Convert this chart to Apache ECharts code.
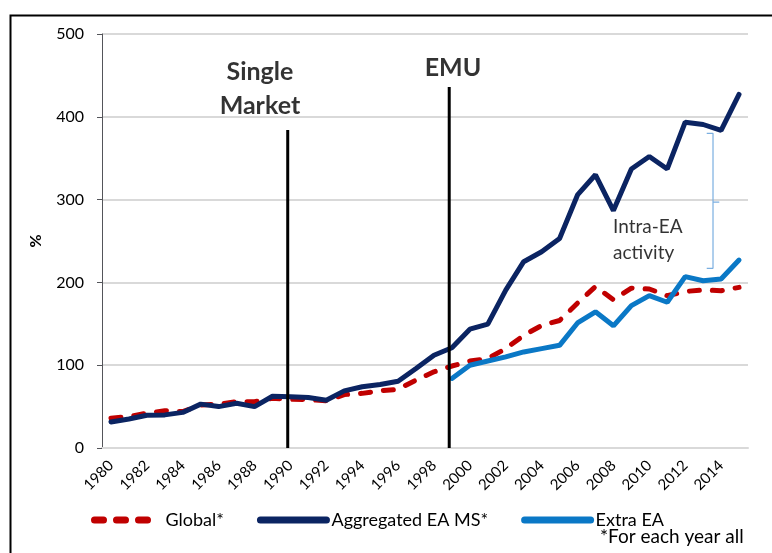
<!DOCTYPE html>
<html>
<head>
<meta charset="utf-8">
<script src="https://cdn.jsdelivr.net/npm/echarts@6/dist/echarts.min.js"></script>
<style>
  html, body { margin: 0; padding: 0; background: #fff; }
  #chart { width: 772px; height: 553px; }
</style>
</head>
<body>
<div id="chart"></div>
<script>
// years on the x axis
const years = [];
for (let y = 1980; y <= 2015; y++) years.push(String(y));

// Global* (red dashed)
const globalVals = [36, 38, 42, 45, 44, 52, 53, 56, 56, 60,
  59, 58.5, 57, 64.5, 66, 69, 71, 82, 92, 99,
  105, 108, 120, 136, 148, 154, 175, 195, 179, 193,
  192, 184, 189, 191, 190, 194];

// Aggregated EA MS* (navy)
const aggregatedVals = [31.5, 35, 39.5, 40, 43, 53, 50, 54, 50, 62.5,
  62, 61, 57.7, 69, 74, 76.6, 80.6, 96, 112, 121,
  143.5, 149.6, 190.7, 225, 237, 253, 305.6, 330, 286.7, 337,
  352, 337, 393.5, 390.7, 383.5, 427];

// Extra EA (light blue), starts 1999
const extraVals = [null, null, null, null, null, null, null, null, null, null,
  null, null, null, null, null, null, null, null, null, 84,
  100, 105, 110, 116, 120, 124, 151, 164.5, 147.6, 172,
  184, 176, 207, 202, 204, 227];

// event lines (year, top of line in %)
const singleMarket = [[1989.85, 0], [1989.85, 384]];
const emu = [[1998.85, 0], [1998.85, 436]];
// bracket for intra-EA gap
const bracket = [[2013.2, 380], [2013.55, 380], [2013.55, 217], [2013.2, 217]];
const bracketTick = [[2013.55, 297], [2013.9, 297]];

const FONT = 'Lato';
const RED = '#c00000', NAVY = '#0b2462', BLUE = '#0a78c6';

const chart = echarts.init(document.getElementById('chart'));

const option = {
  animation: false,
  textStyle: { fontFamily: FONT },
  grid: { left: 102, right: 24, top: 34, bottom: 105 },
  legend: {
    data: [
      { name: 'Global*', lineStyle: { color: RED, width: 7, type: [9, 13], cap: 'round' } },
      { name: 'Aggregated EA MS*', lineStyle: { color: NAVY, width: 7, cap: 'round' } },
      { name: 'Extra EA', lineStyle: { color: BLUE, width: 7, cap: 'round' } }
    ],
    itemStyle: { opacity: 0 },
    left: 86, top: 506,
    itemWidth: 66, itemHeight: 10, itemGap: 33,
    textStyle: { fontFamily: FONT, fontSize: 18, color: '#000' }
  },
  xAxis: [
    {
      type: 'category',
      data: years,
      boundaryGap: true,
      axisLine: { lineStyle: { color: '#d9d9d9', width: 2 } },
      axisTick: { show: false },
      axisLabel: { interval: 1, rotate: 45, fontSize: 15, color: '#000', fontFamily: FONT, margin: 15 }
    },
    { type: 'value', min: 1979.5, max: 2015.5, show: false }
  ],
  yAxis: {
    type: 'value',
    min: 0, max: 500, interval: 100,
    name: '%',
    nameLocation: 'middle',
    nameGap: 58,
    nameTextStyle: { fontSize: 16, fontWeight: 'bold', color: '#000', fontFamily: FONT },
    axisLabel: { fontSize: 16, color: '#000', fontFamily: FONT, margin: 18 },
    splitLine: { lineStyle: { color: '#d9d9d9', width: 2 } }
  },
  graphic: [
    { type: 'rect', left: 8, top: 13, shape: { width: 820, height: 620 },
      style: { fill: 'none', stroke: '#000', lineWidth: 2 }, silent: true, z: -1 },
    { type: 'text', left: 600, top: 527,
      style: { text: '*For each year all', fontFamily: FONT, fontSize: 19, fill: '#000' } }
  ],
  series: [
    {
      name: 'Global*', type: 'line', data: globalVals, symbol: 'none',
      lineStyle: { color: RED, width: 5, type: [10, 13], cap: 'round' },
      itemStyle: { color: RED }, z: 3
    },
    {
      name: 'Aggregated EA MS*', type: 'line', data: aggregatedVals, symbol: 'none',
      lineStyle: { color: NAVY, width: 5, cap: 'round' },
      itemStyle: { color: NAVY }, z: 4
    },
    {
      name: 'Extra EA', type: 'line', data: extraVals, symbol: 'none',
      lineStyle: { color: BLUE, width: 5, cap: 'round' },
      itemStyle: { color: BLUE }, z: 5
    },
    {
      type: 'line', xAxisIndex: 1, data: singleMarket, symbol: 'none', silent: true,
      lineStyle: { color: '#000', width: 3 }, z: 6
    },
    {
      type: 'line', xAxisIndex: 1, data: emu, symbol: 'none', silent: true,
      lineStyle: { color: '#000', width: 3 }, z: 6
    },
    {
      type: 'line', xAxisIndex: 1, data: bracket, symbol: 'none', silent: true,
      lineStyle: { color: '#7aaee0', width: 1.2 }, z: 6
    },
    {
      type: 'line', xAxisIndex: 1, data: bracketTick, symbol: 'none', silent: true,
      lineStyle: { color: '#7aaee0', width: 1.2 }, z: 6
    },
    {
      type: 'scatter', xAxisIndex: 1, symbolSize: 0, silent: true, z: 7,
      data: [
        { value: [1988.3, 434], label: { formatter: 'Single\nMarket' } },
        { value: [1999.06, 459], label: { formatter: 'EMU' } }
      ],
      label: {
        show: true, position: 'inside', align: 'center', verticalAlign: 'middle',
        fontFamily: FONT, fontSize: 25, fontWeight: 'bold', color: '#000', lineHeight: 34
      }
    },
    {
      type: 'scatter', xAxisIndex: 1, symbolSize: 0, silent: true, z: 7,
      data: [{ value: [2007.98, 251], label: { formatter: 'Intra-EA\nactivity' } }],
      label: {
        show: true, position: 'inside', align: 'left', verticalAlign: 'middle',
        fontFamily: FONT, fontSize: 19, color: '#000', lineHeight: 26
      }
    }
  ]
};

chart.setOption(option);
</script>
</body>
</html>
